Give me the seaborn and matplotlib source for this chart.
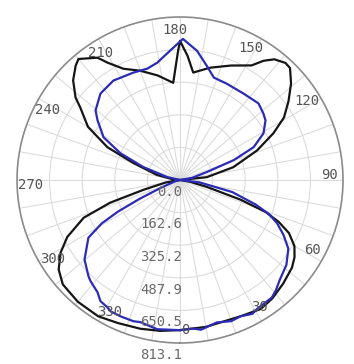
import numpy as np
import pandas as pd
import matplotlib
matplotlib.use("Agg")
import matplotlib.pyplot as plt
import seaborn as sns

# angle (deg, 0 at bottom, counter-clockwise) and intensity values
black_theta = [0, 10, 24, 32, 38, 45, 52, 56, 60, 64, 67, 69.5, 72, 75.5, 80, 90,
               96, 103.5, 111, 116.6, 121, 126, 131, 135.5, 138, 142, 145, 148, 156, 165,
               173, 176.5, 180, 181, 184, 192, 200, 207, 211.7, 214, 220, 222.4, 227,
               231.7, 234, 240, 245.7, 250, 257.7, 265, 270,
               280, 285, 288, 291.4, 296.8, 301.3, 306.4, 311.7, 320, 329, 336.5, 345,
               352.6, 360]
black_val = [749, 744, 744, 759, 749, 729, 709, 689, 659, 605, 535, 456, 317, 139, 50, 0,
             134, 273, 412, 521, 605, 669, 734, 783, 786, 764, 726, 674, 625, 580,
             540, 620, 694, 635, 486, 533, 580, 623, 688, 736, 788, 772, 729,
             664, 615, 530, 397, 248, 117, 35, 0,
             74, 188, 367, 516, 630, 697, 752, 783, 793, 793, 778, 768,
             759, 749]

blue_theta = [0, 5, 8, 14.5, 20, 24, 28.4, 31, 38, 41, 45, 51.4, 57.6, 62, 66,
              69, 72, 77, 83, 90,
              100, 106.5, 110.3, 114, 119.2, 124.9, 128.6, 134.3, 143.7, 154.1, 161.7,
              166.8, 172.5, 178.8, 184.4, 191, 196.4, 203.5, 213.8, 222.6, 230.5,
              234.1, 240.8, 245.8, 250.6, 257, 270,
              285, 292, 295, 297, 299, 302.2, 309.8, 316.5, 318.6, 323.7, 326.7, 330.3,
              332.1, 336.3, 341.7, 344.4, 351.3, 360]
blue_val = [749, 744, 754, 734, 749, 744, 759, 749, 744, 729, 704, 679, 640, 585, 530,
            476, 397, 268, 99, 0,
            60, 139, 286, 402, 477, 520, 532, 547, 535, 534, 538,
            585, 650, 704, 647, 596, 579, 584, 597, 586, 546,
            508, 437, 326, 194, 66, 0,
            25, 99, 223, 347, 446, 540, 620, 663, 674, 695, 723, 731,
            741, 742, 742, 736, 753, 749]

r_ticks = [0.0, 162.6, 325.2, 487.9, 650.5, 813.1]
angle_labels = list(range(0, 360, 30))

df = pd.concat([
    pd.DataFrame({"theta": np.deg2rad(black_theta), "value": black_val, "curve": "C0-C180"}),
    pd.DataFrame({"theta": np.deg2rad(blue_theta), "value": blue_val, "curve": "C90-C270"}),
])

sns.set_style("white")
plt.rcParams["font.family"] = ["DejaVu Sans Mono"]

fig = plt.figure(figsize=(3.54, 3.64), dpi=100)
ax = fig.add_axes([0.048, 0.0577, 0.921, 0.8956], projection="polar")
ax.set_theta_zero_location("S")
ax.set_theta_direction(1)

sns.lineplot(data=df, x="theta", y="value", hue="curve", units="curve",
             estimator=None, sort=False, palette=["#151515", "#2b2bb5"],
             linewidth=1.6, legend=False, ax=ax)

ax.set_ylim(0, r_ticks[-1])
ax.set_yticks(r_ticks[1:])
ax.set_yticklabels([])
ax.set_xticks(np.deg2rad(np.arange(0, 360, 10)))
ax.set_xticklabels([])
ax.grid(True, color="#dcdcdc", linewidth=0.8)
ax.spines["polar"].set_color("#8c8c8c")
ax.spines["polar"].set_linewidth(1.2)
ax.set_xlabel("")
ax.set_ylabel("")

for a in angle_labels:
    ax.text(np.deg2rad(a + 2), r_ticks[-1] * 0.92, str(a), ha="center", va="center",
            fontsize=10, color="#555555")

for rv in r_ticks:
    ax.annotate(f"{rv:.1f}", xy=(0, rv), xytext=(1.5, -3.5), textcoords="offset points",
                ha="right", va="top", fontsize=10, color="#6a6a6a",
                annotation_clip=False)

fig.savefig("out.png", dpi=100)
